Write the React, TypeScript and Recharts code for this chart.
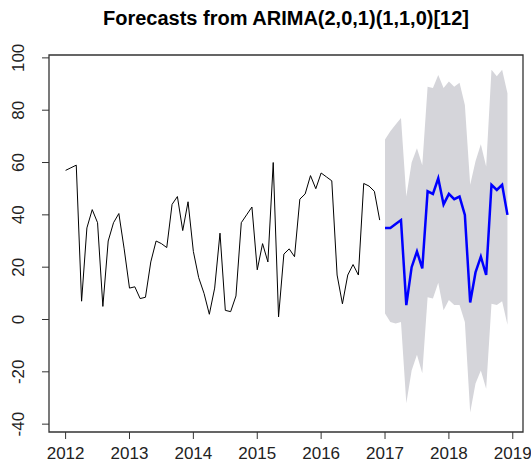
import React from "react"
import {
  ComposedChart, Line, Area, XAxis, YAxis, ReferenceArea
} from "recharts"

// monthly series, Jan 2012 - Dec 2016
const startYear = 2012
const history = [
  57, 58, 59, 7, 35, 42, 37, 5, 30, 37,
  40.5, 27, 12, 12.5, 8, 8.5, 22, 30, 29, 27.5,
  44, 47, 34, 45, 26, 16, 10, 2, 12, 33,
  3.5, 3, 9, 37, 40, 43, 19, 29, 22, 60,
  1, 25, 27, 24, 46, 48, 55, 50, 56, 54.5,
  53, 17, 6, 17, 21, 17, 52, 51, 49, 38,
]

// forecast, Jan 2017 - Dec 2018
const forecast = [
  35, 35, 36.5, 38, 5.5, 20, 26, 19.5, 49, 48, 54, 44,
  48, 46, 47, 40, 6.5, 18, 24, 17, 51.5, 49.5, 51.5, 40,
]
const lower = [
  2.3, -1, -1.5, -1, -32, -19.5, -13.5, -20.5, 8.5, 8, 14, 3.5,
  7.5, 5.5, 5.5, -1, -35.5, -24.5, -19.5, -26.5, 6, 5.5, 7, -2,
]
const upper = [
  68.8, 72, 74.5, 77, 47, 60, 65.5, 59, 89, 88.5, 93.5, 88.5,
  91, 89, 90.5, 82, 51.5, 60.5, 67, 58.5, 95.5, 93, 95.5, 86.5,
]

const yearTicks = [2012, 2013, 2014, 2015, 2016, 2017, 2018, 2019]
const valueTicks = [-40, -20, 0, 20, 40, 60, 80, 100]

const xDomain = [2011.74, 2019.16]
const yDomain = [-43, 101.1]

const rows: any[] = []
history.forEach((v, i) => rows.push({ t: startYear + i / 12, hist: v }))
forecast.forEach((v, i) => {
  const k = history.length + i
  rows.push({ t: startYear + k / 12, fc: v, band: [lower[i], upper[i]] })
})

const font = "'Liberation Sans', Arial, sans-serif"

const XTick = ({ x, y, payload }: any) => (
  <text x={x} y={y + 18} textAnchor="middle" fontSize={17} fill="#222" fontFamily={font}>
    {payload.value}
  </text>
)

const YTick = ({ y, payload }: any) => (
  <text x={24} y={y} transform={`rotate(-90, 24, ${y})`} textAnchor="middle"
    fontSize={17} fill="#222" fontFamily={font}>
    {payload.value}
  </text>
)

export default function App() {
  return (
    <div style={{ position: "absolute", top: 0, left: 0, width: 531, height: 471, background: "#fff" }}>
      <div style={{
        position: "absolute", top: 6, left: 49, width: 474, textAlign: "center",
        fontFamily: font, fontWeight: "bold", fontSize: 20, lineHeight: "24px", color: "#000"
      }}>
        Forecasts from ARIMA(2,0,1)(1,1,0)[12]
      </div>
      <ComposedChart width={531} height={471} data={rows}
        margin={{ top: 55, right: 8, bottom: 0, left: 0 }}>
        <XAxis type="number" dataKey="t" domain={xDomain} ticks={yearTicks}
          allowDataOverflow axisLine={false} tickSize={7} height={39}
          tickLine={{ stroke: "#333" }} tick={<XTick />} />
        <YAxis type="number" domain={yDomain} ticks={valueTicks}
          allowDataOverflow axisLine={false} tickSize={7} width={49}
          tickLine={{ stroke: "#333" }} tick={<YTick />} />
        <Area dataKey="band" stroke="none" fill="#D5D5DA" fillOpacity={1}
          isAnimationActive={false} connectNulls={false} />
        <Line dataKey="hist" stroke="#000" strokeWidth={1} dot={false}
          isAnimationActive={false} connectNulls={false} />
        <Line dataKey="fc" stroke="#0000FF" strokeWidth={2.5} dot={false}
          isAnimationActive={false} connectNulls={false} />
        <ReferenceArea x1={xDomain[0]} x2={xDomain[1]} y1={yDomain[0]} y2={yDomain[1]}
          fill="none" stroke="#333" strokeWidth={1.3} ifOverflow="visible" />
      </ComposedChart>
    </div>
  )
}
